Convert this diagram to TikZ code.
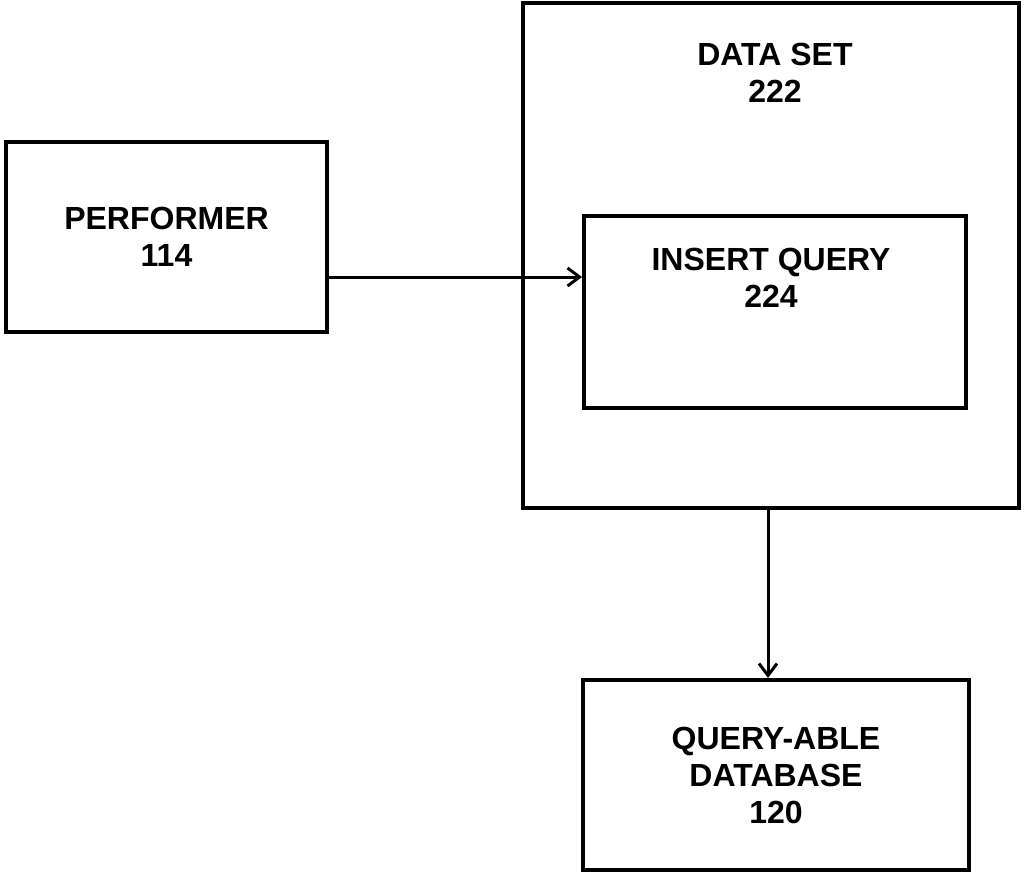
\documentclass[tikz,border=0pt]{standalone}
\usepackage{fontspec}
\setmainfont{Liberation Sans}
\usetikzlibrary{arrows.meta}

\tikzset{
  blockbox/.style={draw=black, line width=4pt, fill=none, inner sep=0pt,
    font=\fontsize{32}{37}\selectfont\bfseries, align=center},
  blocktext/.style={font=\fontsize{32}{37}\selectfont\bfseries, align=center},
  flow/.style={draw=black, line width=3pt,
    -{Straight Barb[length=12pt, width=18pt, line width=3pt]}}
}

\begin{document}
\begin{tikzpicture}[x=1pt, y=-1pt]
            \useasboundingbox (0,0) rectangle (1024,873);
            % left block
            \node[blockbox, minimum width=321pt, minimum height=190pt]
            (performer) at (166.5,237) {PERFORMER\\114};%
            % outer data set with the insert query inside
            \node[blockbox, minimum width=496pt, minimum height=505pt]
            (dataset) at (771,255.5) {};%
            \node[blocktext] (datatitle) at (775,73) {DATA SET\\222};%
            \node[blockbox, minimum width=382pt, minimum height=192pt]
            (insert) at (775,312) {};%
            \node[blocktext] (inserttitle) at (771,278) {INSERT QUERY\\224};%
            % database below
            \node[blockbox, minimum width=386pt, minimum height=190pt]
            (database) at (776,775) {QUERY-ABLE\\DATABASE\\120};%
            % connectors
            \draw[flow] ([yshift=-40pt]performer.east)
            -- ([yshift=-40pt]performer.east -| insert.west);%
            \draw[flow] ([xshift=-3pt]dataset.south)
            -- ([xshift=-3pt]dataset.south |- database.north);%
      \end{tikzpicture}
\end{document}
